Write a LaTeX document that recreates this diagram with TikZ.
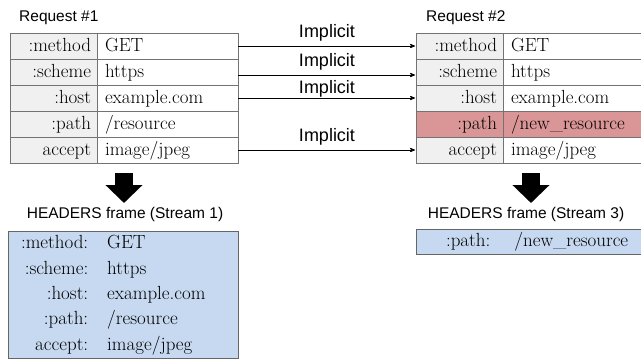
\documentclass[tikz,border=0pt]{standalone}
\usepackage{fontspec}
\newfontfamily\arialfont{Liberation Sans}
\usetikzlibrary{
        arrows,
        arrows.meta,
        positioning
    }
\tikzset{>=stealth',shorten >=1pt,auto,node distance=0pt}
\definecolor{keygray}{gray}{0.94}
\definecolor{pathred}{RGB}{218,150,150}
\definecolor{frameblue}{RGB}{198,217,240}

\begin{document}
\begin{tikzpicture}[x=1pt,y=-1pt,
        cell/.style={draw=black!55,line width=0.8pt,outer sep=0pt,minimum height=26pt,inner ysep=0pt,
            text height=13pt,text depth=2pt,font=\rmfamily\fontsize{19}{22}\selectfont},
        hkey/.style={cell,fill=keygray,inner xsep=6pt,text width=75pt,align=right},
        hval/.style={cell,fill=white,inner xsep=8pt,text width=125pt,align=left},
        reqlabel/.style={font=\arialfont\fontsize{15.5}{18}\selectfont,inner sep=0pt},
        hdrbox/.style={draw=black!60,line width=0.8pt,fill=frameblue,outer sep=0pt,inner ysep=0pt,
            align=left,font=\rmfamily\fontsize{19}{25.4}\selectfont},
        bigarrow/.style={line width=18pt,shorten >=0pt,-{Triangle[width=36pt,length=18pt]}}]
                \useasboundingbox (0,0) rectangle (641,359);
                % request #1
                \node[hkey,anchor=north west] (m1) at (10,33) {:method};
                \node[hval,right=of m1] (mv1) {GET};
                \node[hkey,below=of m1] (s1) {:scheme};
                \node[hval,right=of s1] (sv1) {https};
                \node[hkey,below=of s1] (h1) {:host};
                \node[hval,right=of h1] (hv1) {example.com};
                \node[hkey,below=of h1] (p1) {:path};
                \node[hval,right=of p1] (pv1) {/resource};
                \node[hkey,below=of p1] (a1) {accept};
                \node[hval,right=of a1] (av1) {image/jpeg};
                \node[reqlabel,anchor=base west] (req1) at ([xshift=9pt,yshift=11.5pt]m1.north west) {Request \#1};
                % request #2
                \node[hkey,anchor=north west] (m2) at (416,33) {:method};
                \node[hval,right=of m2] (mv2) {GET};
                \node[hkey,below=of m2] (s2) {:scheme};
                \node[hval,right=of s2] (sv2) {https};
                \node[hkey,below=of s2] (h2) {:host};
                \node[hval,right=of h2] (hv2) {example.com};
                \node[hkey,fill=pathred,below=of h2] (p2) {:path};
                \node[hval,fill=pathred,right=of p2] (pv2) {/new\_resource};
                \node[hkey,below=of p2] (a2) {accept};
                \node[hval,right=of a2] (av2) {image/jpeg};
                \node[reqlabel,anchor=base west] (req2) at ([xshift=10pt,yshift=11.5pt]m2.north west) {Request \#2};
                \path[->,line width=0.8pt,every node/.style={font=\arialfont\fontsize{18}{20}\selectfont,inner sep=4.5pt}]
                    (mv1) edge node {Implicit} (m2)
                    ([yshift=-3pt]sv1.east) edge node {Implicit} ([yshift=-3pt]s2.west)
                    (hv1) edge node[yshift=-4pt] {Implicit} (h2)
                    (av1) edge node {Implicit} (a2)
                ;
                % headers frames
                \node[reqlabel,inner sep=4pt,anchor=north] (hdr1) at (125,203) {HEADERS frame (Stream 1)};
                \node[reqlabel,inner sep=4pt,anchor=north] (hdr2) at (526,203) {HEADERS frame (Stream 3)};
                \coordinate (drop1) at (124,173);
                \coordinate (drop2) at (531,173);
                \draw[bigarrow] (drop1) -- (drop1 |- hdr1.north);
                \draw[bigarrow] (drop2) -- (drop2 |- hdr2.north);
                \node[hdrbox,anchor=north west,minimum height=127pt,text width=204pt,inner xsep=13pt] (frame1) at (8,231)
                    {\begin{tabular}{@{}r@{\hspace{19pt}}l@{}}
                        :method: & GET\\
                        :scheme: & https\\
                        :host: & example.com\\
                        :path: & /resource\\
                        accept: & image/jpeg
                    \end{tabular}};
                \node[hdrbox,anchor=north west,minimum height=25pt,text width=168pt,inner xsep=30pt] (frame2) at (416,229)
                    {\begin{tabular}{@{}r@{\hspace{24pt}}l@{}}
                        :path: & /new\_resource
                    \end{tabular}};
            \end{tikzpicture}
\end{document}
